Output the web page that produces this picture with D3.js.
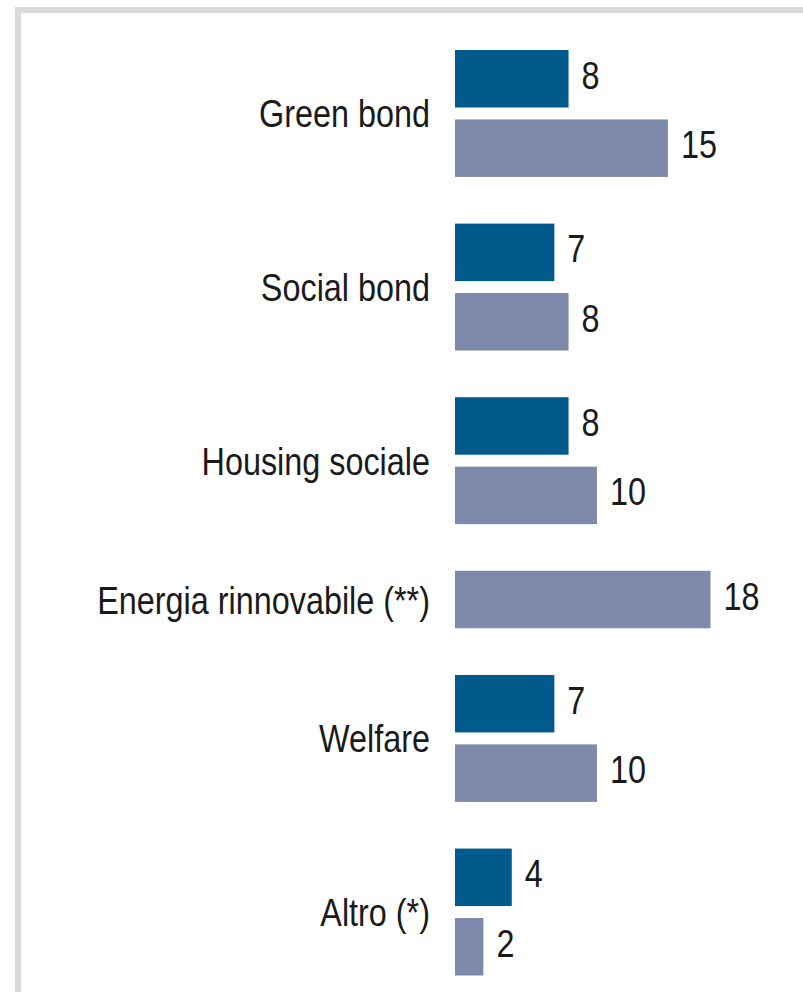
<!DOCTYPE html>
<html>
<head>
<meta charset="utf-8">
<script src="https://cdn.jsdelivr.net/npm/d3@7"></script>
<style>
  body { margin: 0; background: #fff; }
  svg text { font-family: "Liberation Sans", Arial, sans-serif; fill: #1a1a1a; }
</style>
</head>
<body>
<div id="canvas"></div>
<script>
const width = 803;
const height = 992;

// data
const categories = ["Green bond", "Social bond", "Housing sociale", "Energia rinnovabile (**)", "Welfare", "Altro (*)"];
const darkValues  = [8, 7, 8, null, 7, 4];     // first series (dark blue)
const lightValues = [15, 8, 10, 18, 10, 2];    // second series (grey-blue)

const darkColor = "#005b8c";
const lightColor = "#7e8aab";
const narrow = 0.83;   // no narrow font installed, squeeze Liberation Sans instead

const svg = d3.select("#canvas")
    .append("svg")
    .attr("width", width)
    .attr("height", height);

// grey frame, open on the right and bottom
svg.append("rect")
    .attr("x", 18)
    .attr("y", 10)
    .attr("width", width + 20)
    .attr("height", height + 20)
    .attr("fill", "none")
    .attr("stroke", "#d9d9d9")
    .attr("stroke-width", 6);

// build the flat list of bars; each bar takes one slot, groups are split by half a slot
const bars = [];
const labels = [];
let slot = 0;
categories.forEach(function(c, i){
    let first = slot;
    if(darkValues[i] != null){
        bars.push({cat: c, value: darkValues[i], color: darkColor, slot: slot});
        slot += 1;
    }
    if(lightValues[i] != null){
        bars.push({cat: c, value: lightValues[i], color: lightColor, slot: slot});
        slot += 1;
    }
    labels.push({cat: c, mid: (first + slot - 1) / 2});
    slot += 0.5;
});

const barH = 57.5;
const yScale = d3.scaleLinear()
    .domain([0, 12.5])
    .range([50, 918]);

const xScale = d3.scaleLinear()
    .domain([0, 18])
    .range([455, 710.5]);

svg.selectAll("rect.bar")
    .data(bars)
    .enter()
    .append("rect")
    .attr("class", "bar")
    .attr("x", xScale(0))
    .attr("y", d => yScale(d.slot))
    .attr("width", d => xScale(d.value) - xScale(0))
    .attr("height", barH)
    .attr("fill", d => d.color);

svg.selectAll("text.value")
    .data(bars)
    .enter()
    .append("text")
    .attr("class", "value")
    .attr("transform", d => `translate(${xScale(d.value) + 13}, ${yScale(d.slot) + barH / 2 + 10}) scale(${narrow}, 1)`)
    .attr("font-size", 39)
    .text(d => d.value);

svg.selectAll("text.cat")
    .data(labels)
    .enter()
    .append("text")
    .attr("class", "cat")
    .attr("transform", d => `translate(430, ${yScale(d.mid) + barH / 2 + 14}) scale(${narrow}, 1)`)
    .attr("text-anchor", "end")
    .attr("font-size", 39)
    .text(d => d.cat);
</script>
</body>
</html>
